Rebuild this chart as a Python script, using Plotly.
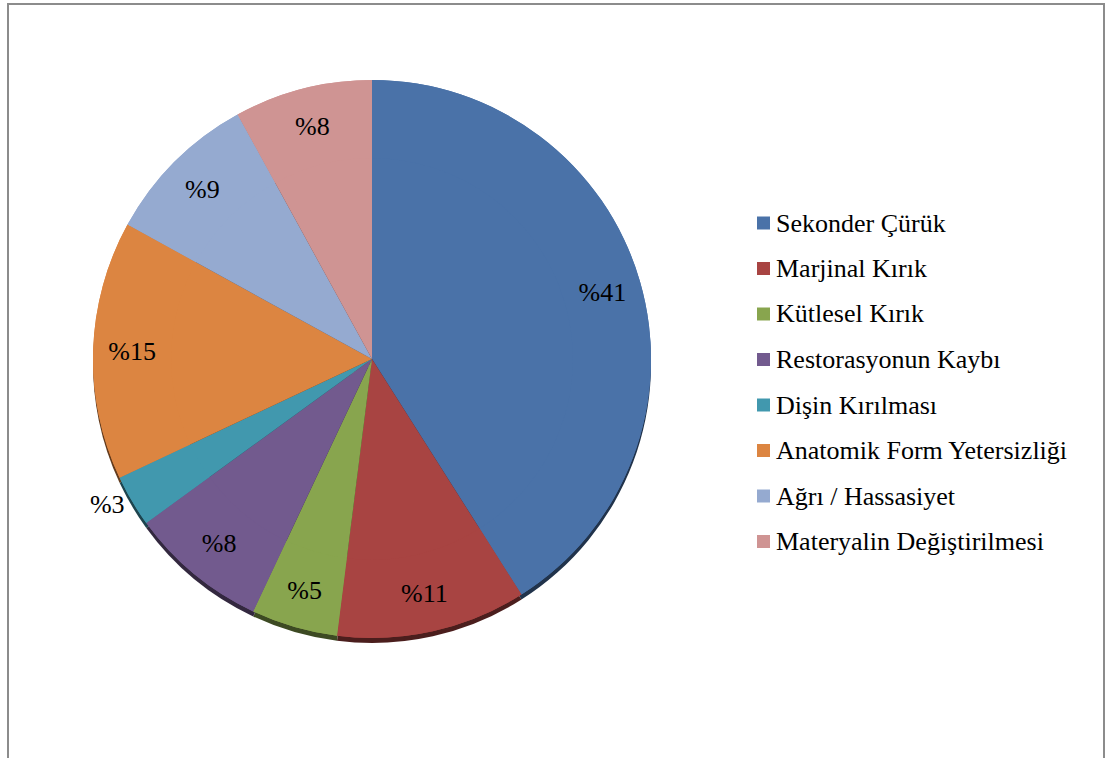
import plotly.graph_objects as go

categories = ["Sekonder Çürük", "Marjinal Kırık", "Kütlesel Kırık", "Restorasyonun Kaybı",
              "Dişin Kırılması", "Anatomik Form Yetersizliği", "Ağrı / Hassasiyet",
              "Materyalin Değiştirilmesi"]
values = [41, 11, 5, 8, 3, 15, 9, 8]
label_text = ["%" + str(v) for v in values]
colors = ["#4A72A8", "#A84442", "#88A54E", "#725A8E", "#4198AE", "#DC8541", "#95AAD0", "#CF9493"]
text_pos = ["inside", "inside", "inside", "inside", "outside", "inside", "inside", "inside"]

FONT = "Times New Roman, Liberation Serif, serif"
W, H = 1105, 758
cx, cy, r = 372, 359, 279


def darken(hex_col, f=0.45):
    h = hex_col.lstrip("#")
    rgb = [int(h[i:i + 2], 16) for i in (0, 2, 4)]
    return "rgb(%d,%d,%d)" % tuple(int(c * f) for c in rgb)


def domain(dy=0):
    return dict(x=[(cx - r) / W, (cx + r) / W],
                y=[1 - (cy + dy + r) / H, 1 - (cy + dy - r) / H])


fig = go.Figure()
# darker rim (3-D edge) peeking out below the pie
fig.add_trace(go.Pie(
    labels=categories, values=values, textinfo="none",
    sort=False, direction="clockwise", rotation=0,
    marker=dict(colors=[darken(c) for c in colors], line=dict(width=0)),
    domain=domain(5), showlegend=False, hoverinfo="skip",
))
# full pie (colour fill)
fig.add_trace(go.Pie(
    labels=categories, values=values, textinfo="none",
    sort=False, direction="clockwise", rotation=0,
    marker=dict(colors=colors, line=dict(width=0)),
    domain=domain(0), showlegend=False, hoverinfo="label+percent",
))
# outer ring carrying the percentage labels near the rim
fig.add_trace(go.Pie(
    labels=categories, values=values, text=label_text, textinfo="text",
    textposition=text_pos, insidetextorientation="horizontal",
    textfont=dict(family=FONT, size=26, color="black"),
    sort=False, direction="clockwise", rotation=0, hole=0.72,
    marker=dict(colors=colors, line=dict(width=0)),
    domain=domain(0), showlegend=False, hoverinfo="label+percent",
))

shapes = [dict(type="rect", xref="paper", yref="paper",
               x0=8 / W, x1=1104 / W, y0=-0.05, y1=1 - 4 / H,
               line=dict(color="#8C8C8C", width=2), fillcolor="rgba(0,0,0,0)")]
annotations = []
leg_top, leg_step = 223, 45.5
for i, (name, col) in enumerate(zip(categories, colors)):
    yc = leg_top + i * leg_step
    shapes.append(dict(type="rect", xref="paper", yref="paper",
                       x0=757 / W, x1=770 / W, y0=1 - (yc + 6.5) / H, y1=1 - (yc - 6.5) / H,
                       line=dict(width=0), fillcolor=col))
    annotations.append(dict(xref="paper", yref="paper", x=774 / W, y=1 - yc / H,
                            xanchor="left", yanchor="middle", showarrow=False, text=name,
                            font=dict(family=FONT, size=26, color="black")))

fig.update_layout(
    width=W, height=H,
    margin=dict(l=0, r=0, t=0, b=0),
    paper_bgcolor="white",
    plot_bgcolor="white",
    font=dict(family=FONT),
    shapes=shapes,
    annotations=annotations,
)

fig.write_html("out.html", config=dict(displayModeBar=False),
               post_script="document.body.style.margin='0';")
